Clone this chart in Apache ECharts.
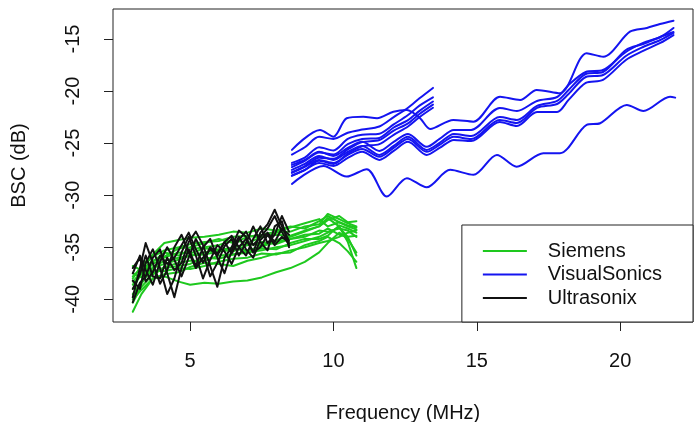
<!DOCTYPE html>
<html>
<head>
<meta charset="utf-8">
<script src="https://cdn.jsdelivr.net/npm/echarts@6/dist/echarts.min.js"></script>
<style>
html, body { margin: 0; padding: 0; background: #fff; }
#bsc_chart { width: 696px; height: 422px; }
</style>
</head>
<body>
<div id="bsc_chart"></div>
<script>
// BSC vs frequency, three scanners
var xTicks = [5, 10, 15, 20];
var yTicks = [-40, -35, -30, -25, -20, -15];

// Siemens (green)
var siemensFreq = [3.0, 3.3, 3.7, 4.1, 4.6, 5.0, 5.5, 6.0, 6.5, 7.0, 7.5, 8.0, 8.5, 9.0, 9.5, 9.8, 10.2, 10.5, 10.8];
var siemensBsc = [
    [-41.2, -39.5, -38.0, -37.8, -38.3, -38.6, -38.4, -38.5, -38.3, -38.2, -37.9, -37.4, -37.0, -36.4, -35.5, -34.6, -33.6, -34.2, -35.5],
    [-39.0, -37.5, -36.4, -35.5, -35.8, -35.2, -35.0, -34.8, -34.3, -34.6, -34.0, -33.8, -33.9, -33.4, -33.0, -32.2, -33.0, -34.5, -37.0],
    [-38.0, -36.8, -35.7, -34.6, -34.3, -34.1, -34.0, -33.8, -33.5, -33.6, -33.2, -33.4, -33.0, -33.2, -32.5, -32.0, -32.6, -33.0, -33.3],
    [-37.5, -37.9, -37.0, -36.6, -36.2, -35.8, -35.5, -35.2, -35.4, -34.8, -34.5, -34.7, -34.2, -33.8, -33.7, -33.2, -33.8, -34.0, -33.9],
    [-36.8, -37.2, -36.3, -35.9, -35.1, -35.0, -34.6, -34.2, -34.6, -34.0, -33.8, -33.5, -33.1, -32.7, -32.3, -33.0, -32.6, -32.9, -33.1],
    [-40.3, -38.8, -37.6, -37.0, -36.8, -36.6, -36.0, -36.1, -35.7, -35.5, -35.3, -35.0, -34.8, -34.4, -34.0, -33.6, -33.1, -34.0, -35.8],
    [-39.5, -38.3, -37.2, -37.3, -37.0, -37.1, -36.8, -36.4, -36.1, -36.0, -35.6, -35.7, -35.3, -35.0, -34.6, -34.4, -34.0, -33.6, -33.4],
    [-38.6, -37.6, -36.6, -36.0, -35.5, -35.6, -35.1, -35.3, -35.0, -34.7, -34.8, -34.3, -34.0, -33.5, -33.0, -32.4, -32.0, -32.6, -32.5],
    [-40.0, -39.1, -38.0, -37.6, -37.4, -36.9, -36.5, -36.6, -36.8, -36.3, -36.0, -35.6, -35.5, -34.8, -34.4, -34.0, -34.6, -35.4, -36.4],
    [-37.8, -37.0, -35.9, -35.3, -35.0, -34.7, -34.5, -34.4, -34.0, -33.9, -34.1, -33.6, -33.5, -33.0, -32.8, -31.8, -32.3, -32.7, -33.0],
    [-39.8, -38.5, -36.9, -36.3, -36.0, -35.8, -35.7, -35.4, -35.2, -35.3, -34.9, -34.5, -34.2, -34.0, -33.4, -33.5, -33.2, -33.4, -34.0],
    [-38.3, -37.4, -37.5, -36.9, -36.5, -36.3, -36.3, -35.8, -35.7, -35.4, -35.1, -35.2, -34.6, -34.2, -34.2, -33.9, -32.9, -33.2, -33.6]
];

// VisualSonics (blue), short probe 8.5-13.5 MHz
var visualShortFreq = [8.55, 9.0, 9.5, 10.0, 10.5, 11.0, 11.6, 12.1, 12.6, 13.0, 13.47];
var visualShortBsc = [
    [-26.1, -25.4, -24.4, -24.6, -24.0, -23.7, -23.4, -22.5, -21.6, -20.7, -19.7],
    [-26.9, -26.4, -25.4, -25.7, -24.6, -24.2, -24.1, -23.2, -22.3, -21.4, -20.6],
    [-27.3, -26.7, -25.9, -26.1, -25.1, -24.6, -24.5, -23.5, -22.8, -21.9, -21.0],
    [-27.8, -27.2, -26.4, -26.5, -25.6, -24.9, -24.7, -23.8, -23.1, -22.2, -21.3],
    [-28.1, -27.6, -26.7, -27.0, -26.0, -25.3, -25.1, -24.2, -23.4, -22.5, -21.6]
];

// VisualSonics, long probe 8.5-22 MHz
var visualLongFreq = [8.55, 9.0, 9.5, 10.0, 10.5, 11.0, 11.6, 12.1, 12.6, 13.25, 13.7, 14.2, 14.8, 15.8, 16.4, 17.1, 17.8, 18.2, 18.8, 19.4, 20.2, 20.8, 21.4, 21.86];
var visualLongBsc = [
    [-27.09, -26.61, -25.84, -26.23, -25.46, -24.88, -25.75, -24.88, -24.12, -25.36, -24.60, -23.73, -23.73, -21.62, -21.91, -20.95, -20.57, -19.41, -18.17, -17.98, -16.25, -15.38, -14.81, -13.94],
    [-27.57, -27.00, -26.23, -26.61, -25.84, -25.27, -26.13, -25.27, -24.40, -25.65, -24.98, -24.12, -24.31, -22.49, -22.77, -21.43, -20.95, -19.89, -18.36, -18.17, -16.06, -15.48, -14.81, -14.33],
    [-27.86, -27.28, -26.61, -26.90, -26.13, -25.56, -26.32, -25.46, -24.60, -25.84, -25.17, -24.40, -24.60, -22.77, -23.06, -21.62, -21.24, -20.28, -18.65, -18.46, -16.63, -15.77, -15.10, -14.42],
    [-28.15, -27.57, -26.90, -27.19, -26.42, -25.84, -26.61, -25.75, -24.88, -26.13, -25.46, -24.69, -24.79, -22.97, -23.35, -22.01, -22.01, -20.85, -19.22, -18.93, -17.02, -16.15, -15.38, -14.62]
];
var visualTopFreq = [8.55, 9.53, 10.0, 10.46, 11.04, 11.52, 12.09, 12.56, 13.02, 13.37, 14.18, 14.88, 15.81, 16.51, 17.09, 17.9, 18.83, 19.41, 20.34, 20.93, 21.39, 21.86];
var visualTopBsc = [-25.65, -23.73, -24.38, -22.61, -22.46, -22.61, -21.98, -21.81, -22.61, -23.64, -22.77, -22.94, -20.54, -20.85, -19.89, -20.21, -16.37, -16.70, -14.30, -13.94, -13.56, -13.24];
var visualLowFreq = [8.55, 9.65, 10.46, 11.16, 11.86, 12.56, 13.25, 14.07, 14.88, 15.7, 16.39, 17.32, 17.9, 18.83, 19.3, 20.23, 20.81, 21.74, 21.92];
var visualLowBsc = [-28.92, -27.19, -28.21, -27.50, -30.13, -28.37, -29.25, -27.57, -28.05, -26.13, -27.26, -25.97, -25.97, -23.25, -23.09, -21.33, -21.91, -20.54, -20.63];

// Ultrasonix (black)
var ultraFreq = [3.0, 3.25, 3.45, 3.7, 3.95, 4.2, 4.45, 4.7, 4.95, 5.2, 5.45, 5.7, 5.95, 6.2, 6.45, 6.7, 6.95, 7.2, 7.45, 7.7, 7.95, 8.2, 8.45];
var ultraBsc = [
    [-39.8, -37.0, -34.6, -36.5, -38.5, -37.2, -35.0, -33.8, -35.5, -37.0, -36.0, -35.2, -35.8, -34.5, -35.6, -34.3, -33.5, -34.8, -34.0, -33.2, -32.0, -33.5, -34.8],
    [-38.2, -39.0, -36.5, -35.2, -37.0, -39.5, -38.0, -35.5, -34.0, -35.8, -38.0, -36.2, -34.8, -35.4, -36.6, -35.0, -34.2, -35.5, -33.6, -32.8, -31.4, -33.0, -34.4],
    [-37.5, -35.8, -37.2, -38.6, -36.4, -35.0, -36.2, -37.8, -36.0, -34.2, -35.5, -37.8, -36.5, -34.9, -34.2, -35.8, -34.6, -33.0, -34.5, -35.3, -33.0, -32.5, -35.0],
    [-40.3, -38.4, -37.8, -36.0, -35.2, -37.5, -39.8, -37.0, -35.2, -36.8, -35.0, -34.2, -36.0, -37.5, -35.3, -34.0, -35.2, -36.0, -34.3, -33.6, -34.5, -33.2, -33.8],
    [-37.0, -36.0, -38.3, -37.4, -35.8, -36.6, -36.0, -34.8, -33.6, -35.2, -36.5, -35.0, -35.6, -34.5, -33.9, -35.0, -35.8, -34.2, -33.0, -34.6, -33.8, -32.0, -33.5],
    [-39.0, -37.6, -35.8, -37.8, -38.0, -36.0, -37.2, -36.5, -34.5, -33.5, -34.8, -36.8, -38.8, -36.0, -35.0, -33.4, -34.0, -35.5, -35.0, -33.8, -34.8, -34.0, -34.6]
];

var fontName = '"Liberation Sans", Arial, Helvetica, sans-serif';
var seriesList = [];

function addCurve(name, freq, bsc, color, smooth) {
    seriesList.push({
        name: name,
        type: 'line',
        data: freq.map(function (f, i) { return [f, bsc[i]]; }),
        showSymbol: false,
        smooth: smooth,
        silent: true,
        animation: false,
        emphasis: { disabled: true },
        itemStyle: { color: color },
        lineStyle: { color: color, width: 2, join: 'round', cap: 'round' }
    });
}

siemensBsc.forEach(function (c) { addCurve('Siemens', siemensFreq, c, '#1ec81e', false); });
visualShortBsc.forEach(function (c) { addCurve('VisualSonics', visualShortFreq, c, '#1414f0', 0.3); });
visualLongBsc.forEach(function (c) { addCurve('VisualSonics', visualLongFreq, c, '#1414f0', 0.3); });
addCurve('VisualSonics', visualTopFreq, visualTopBsc, '#1414f0', 0.3);
addCurve('VisualSonics', visualLowFreq, visualLowBsc, '#1414f0', 0.3);
ultraBsc.forEach(function (c) { addCurve('Ultrasonix', ultraFreq, c, '#111111', false); });

var bsc_option = {
    animation: false,
    grid: {
        left: 113,
        top: 9,
        width: 580,
        height: 313,
        outerBoundsMode: 'none',
        show: true,
        borderColor: '#222',
        borderWidth: 1,
        backgroundColor: 'transparent'
    },
    legend: {
        data: ['Siemens', 'VisualSonics', 'Ultrasonix'],
        orient: 'vertical',
        right: 3,
        bottom: 100,
        icon: 'rect',
        itemWidth: 44,
        itemHeight: 2,
        itemGap: 3.5,
        padding: [16, 31, 14, 21],
        borderColor: '#222',
        borderWidth: 1,
        backgroundColor: '#fff',
        selectedMode: false,
        textStyle: {
            fontFamily: fontName,
            fontSize: 20,
            lineHeight: 20,
            color: '#111',
            padding: [0, 0, 0, 16]
        }
    },
    xAxis: {
        type: 'value',
        min: 2.31,
        max: 22.54,
        name: 'Frequency (MHz)',
        nameLocation: 'middle',
        nameGap: 81,
        nameTextStyle: { fontFamily: fontName, fontSize: 20, color: '#111' },
        axisLine: { show: false },
        axisTick: { show: true, length: 9, customValues: xTicks, lineStyle: { color: '#222' } },
        axisLabel: { customValues: xTicks, margin: 29, fontFamily: fontName, fontSize: 20, color: '#111' },
        splitLine: { show: false }
    },
    yAxis: {
        type: 'value',
        min: -42.18,
        max: -12.12,
        name: 'BSC (dB)',
        nameLocation: 'middle',
        nameGap: 84,
        nameTextStyle: { fontFamily: fontName, fontSize: 20, color: '#111' },
        axisLine: { show: false },
        axisTick: { show: true, length: 9, customValues: yTicks, lineStyle: { color: '#222' } },
        axisLabel: { customValues: yTicks, rotate: 90, margin: 30, fontFamily: fontName, fontSize: 20, color: '#111' },
        splitLine: { show: false }
    },
    series: seriesList
};

var chart_bsc = null;
chart_bsc = echarts.init(document.getElementById('bsc_chart'));
chart_bsc.setOption(bsc_option);
</script>
</body>
</html>
